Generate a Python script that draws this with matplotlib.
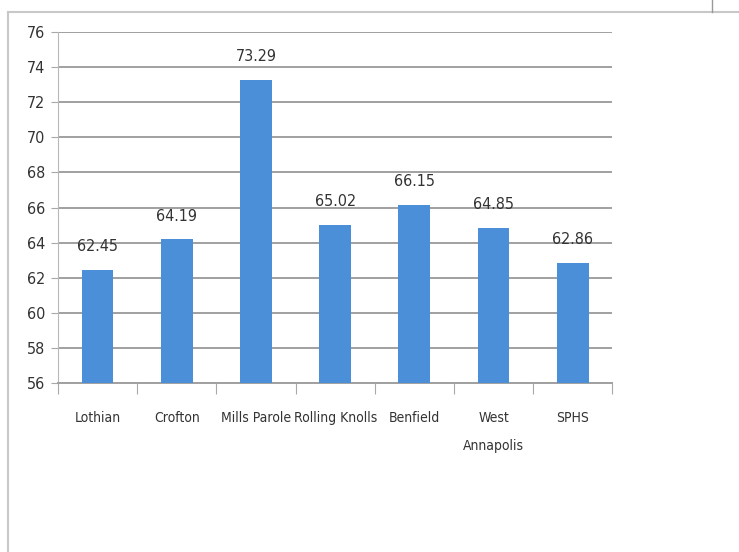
import matplotlib.pyplot as plt
from matplotlib.lines import Line2D

schools = ["Lothian", "Crofton", "Mills Parole", "Rolling Knolls", "Benfield", "West\nAnnapolis", "SPHS"]
scores = [62.45, 64.19, 73.29, 65.02, 66.15, 64.85, 62.86]
yticks = [56, 58, 60, 62, 64, 66, 68, 70, 72, 74, 76]

plt.rcParams['font.family'] = ['DejaVu Sans']
plt.rcParams['font.stretch'] = 'condensed'

fig = plt.figure(figsize=(7.39, 5.52), dpi=100)
ax = fig.add_axes([0.0785, 0.306, 0.75, 0.636])

x = range(len(schools))
ax.bar(x, scores, width=0.4, color="#4a8fd8", zorder=3)
for xi, v in zip(x, scores):
    ax.text(xi, v + 0.9, "%.2f" % v, ha="center", va="bottom", fontsize=11.5, color="#333333")

ax.set_ylim(56, 76)
ax.set_xlim(-0.5, len(schools) - 0.5)
ax.set_yticks(yticks)
ax.set_yticklabels([str(t) for t in yticks], fontsize=11.5, color="#333333")
ax.yaxis.grid(True, color="#a0a0a0", linewidth=1.4, zorder=0)
ax.tick_params(axis="y", length=5, color="#a8a8a8", pad=4)

# separator ticks between categories, labels centred under bars
ax.set_xticks([i - 0.5 for i in range(len(schools) + 1)], minor=False)
ax.set_xticklabels([""] * (len(schools) + 1))
ax.tick_params(axis="x", length=8, color="#a8a8a8")
ax.set_xticks(list(x), minor=True)
ax.set_xticklabels(schools, minor=True, fontsize=10, color="#333333", linespacing=2.3)
ax.tick_params(axis="x", which="minor", length=0, pad=20)

for s in ["top", "right"]:
    ax.spines[s].set_visible(False)
ax.spines["left"].set_color("#b8b8b8")
ax.spines["bottom"].set_color("#a0a0a0")
ax.spines["bottom"].set_linewidth(1.4)

# scanned page border
fig.add_artist(Line2D([8/739, 1], [1 - 12/552, 1 - 12/552], color="#c8c8c8", lw=1.5))
fig.add_artist(Line2D([8/739, 8/739], [0, 1 - 12/552], color="#c8c8c8", lw=1.5))
fig.add_artist(Line2D([712/739, 712/739], [1 - 12/552, 1], color="#999999", lw=1))

fig.savefig("out.png", dpi=100, facecolor="white")
